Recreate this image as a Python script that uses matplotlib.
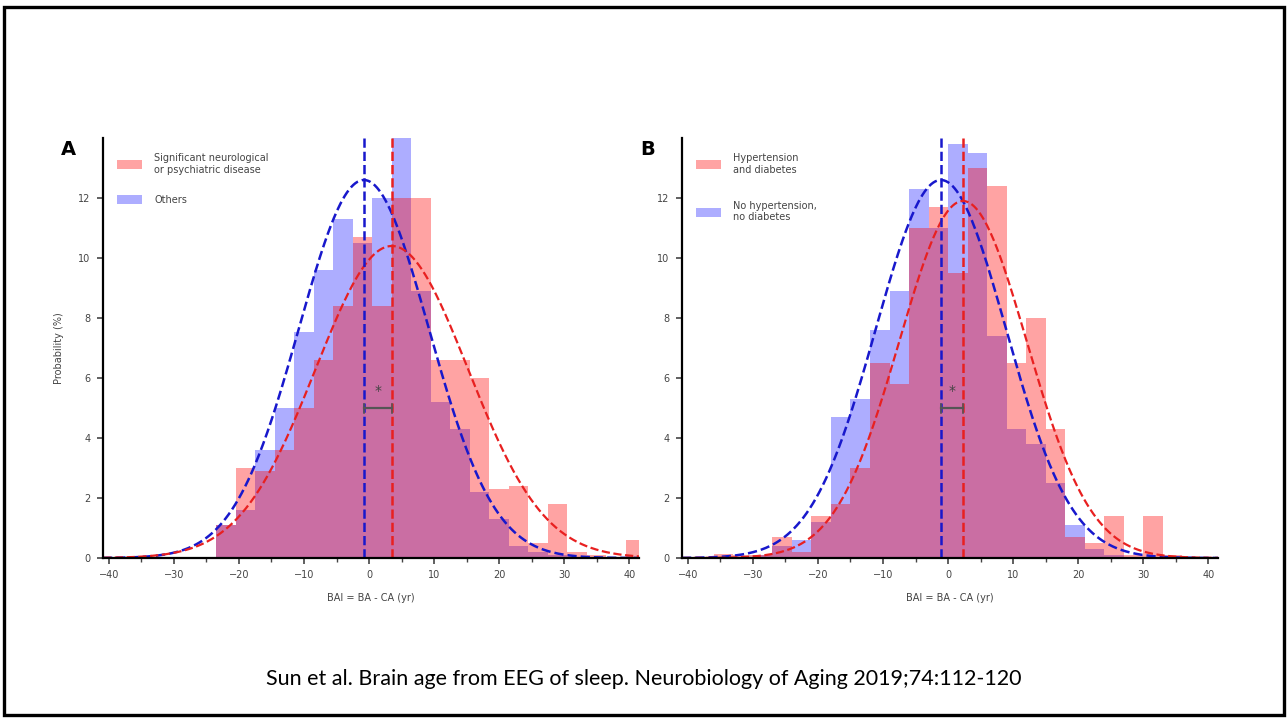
import numpy as np
import matplotlib
matplotlib.use("Agg")
import matplotlib.pyplot as plt
from matplotlib.patches import Rectangle

# ---- data ----
# panel A: bins of 3 yr starting at -23.5
edges_a = np.arange(-23.5, 43.0, 3.0)
pink_a = [1.1, 3.0, 2.9, 3.6, 5.0, 6.6, 8.4, 10.7, 8.4, 12.0, 12.0,
          6.6, 6.6, 6.0, 2.3, 2.4, 0.5, 1.8, 0.2, 0.1, 0.0, 0.6]
blue_a = [1.1, 1.6, 3.6, 5.0, 7.55, 9.6, 11.3, 10.5, 12.0, 14.5, 8.9,
          5.2, 4.3, 2.2, 1.3, 0.4, 0.2, 0.1, 0.0, 0.0, 0.0, 0.0]

# panel B: bins of 3 yr starting at -36
edges_b = np.arange(-36.0, 40.0, 3.0)
pink_b = [0.15, 0.1, 0.1, 0.7, 0.2, 1.4, 1.8, 3.0, 6.5, 5.8, 11.0, 11.7, 9.5,
          13.0, 12.4, 6.5, 8.0, 4.3, 0.7, 0.5, 1.4, 0.1, 1.4, 0.1, 0.0]
blue_b = [0.0, 0.05, 0.1, 0.4, 0.6, 1.2, 4.7, 5.3, 7.6, 8.9, 12.3, 11.0, 13.8,
          13.5, 7.4, 4.3, 3.8, 2.5, 1.1, 0.3, 0.1, 0.05, 0.0, 0.0, 0.0]

# fitted normal curves: (mean, peak, sd)
fit_a_red = (3.5, 10.4, 11.7)
fit_a_blue = (-0.8, 12.6, 10.0)
fit_b_red = (2.3, 11.9, 9.8)
fit_b_blue = (-1.1, 12.6, 10.0)

legend_a = ["Significant neurological\nor psychiatric disease", "Others"]
legend_b = ["Hypertension\nand diabetes", "No hypertension,\nno diabetes"]

caption = "Sun et al. Brain age from EEG of sleep. Neurobiology of Aging 2019;74:112-120"

W, H = 1288, 719
fig = plt.figure(figsize=(W / 100, H / 100), dpi=100)

# slide frame
fig.patches.append(Rectangle((4 / W, 4 / H), 1 - 8 / W, 1 - 11 / H, transform=fig.transFigure,
                             fill=False, edgecolor="black", linewidth=2.4))

xgrid = np.linspace(-40.9, 41.5, 500)


def gauss(fit):
    mu, peak, sd = fit
    return peak * np.exp(-(xgrid - mu) ** 2 / (2 * sd ** 2))


def panel(left_px, edges, pink, blue, fit_red, fit_blue, labels, letter, show_ylabel, spacing):
    ax = fig.add_axes([left_px / W, (H - 558) / H, 536 / W, 420 / H])
    w = edges[1] - edges[0]
    ax.bar(edges[:-1], blue, width=w, align="edge", color="#0000ff", alpha=0.32,
           linewidth=0, label=labels[1])
    ax.bar(edges[:-1], pink, width=w, align="edge", color="#ff0000", alpha=0.36,
           linewidth=0, label=labels[0])
    ax.plot(xgrid, gauss(fit_blue), "--", color="#1818cc", lw=1.8)
    ax.plot(xgrid, gauss(fit_red), "--", color="#e82020", lw=1.6)
    ax.axvline(fit_blue[0], color="#1818cc", ls="--", lw=1.8)
    ax.axvline(fit_red[0], color="#e82020", ls="--", lw=1.8)

    # significance bracket
    ax.plot([fit_blue[0], fit_red[0]], [5.0, 5.0], color="#555555", lw=1.6)
    for xb in (fit_blue[0], fit_red[0]):
        ax.plot([xb, xb], [4.85, 5.15], color="#555555", lw=1.2)
    ax.text((fit_blue[0] + fit_red[0]) / 2, 5.55, "*", ha="center", va="center",
            fontsize=10, color="#444444")

    ax.set_xlim(-40.9, 41.5)
    ax.set_ylim(0, 14)
    ax.set_xticks(np.arange(-40, 41, 10))
    ax.set_xticks(np.arange(-35, 40, 10), minor=True)
    ax.set_yticks(np.arange(0, 13, 2))
    ax.tick_params(labelsize=7, colors="#444444", length=4, width=1.2, pad=5)
    ax.tick_params(which="minor", length=3, width=1.0, colors="#444444")
    for s in ["top", "right"]:
        ax.spines[s].set_visible(False)
    for s in ["left", "bottom"]:
        ax.spines[s].set_linewidth(1.6)
    ax.set_xlabel("BAI = BA - CA (yr)", fontsize=7, color="#444444", labelpad=9)
    if show_ylabel:
        ax.set_ylabel("Probability (%)", fontsize=7, color="#444444", labelpad=10)
    h, l = ax.get_legend_handles_labels()
    ax.legend(h[::-1], l[::-1], loc="upper left", bbox_to_anchor=(0.01, 0.985), frameon=False,
              fontsize=7.0, handlelength=2.6, handleheight=1.1, labelspacing=spacing,
              handletextpad=1.2, labelcolor="#444444")
    ax.text(-0.065, 0.972, letter, transform=ax.transAxes, fontsize=14, fontweight="bold",
            ha="center", va="center")
    return ax


panel(103, edges_a, pink_a, blue_a, fit_a_red, fit_a_blue, legend_a, "A", True, 2.1)
panel(682, edges_b, pink_b, blue_b, fit_b_red, fit_b_blue, legend_b, "B", False, 2.7)

fig.text(0.5, (H - 679) / H, caption, ha="center", va="center", fontsize=15.5,
         family="Lato", color="black")

fig.savefig("out.png", dpi=100)
